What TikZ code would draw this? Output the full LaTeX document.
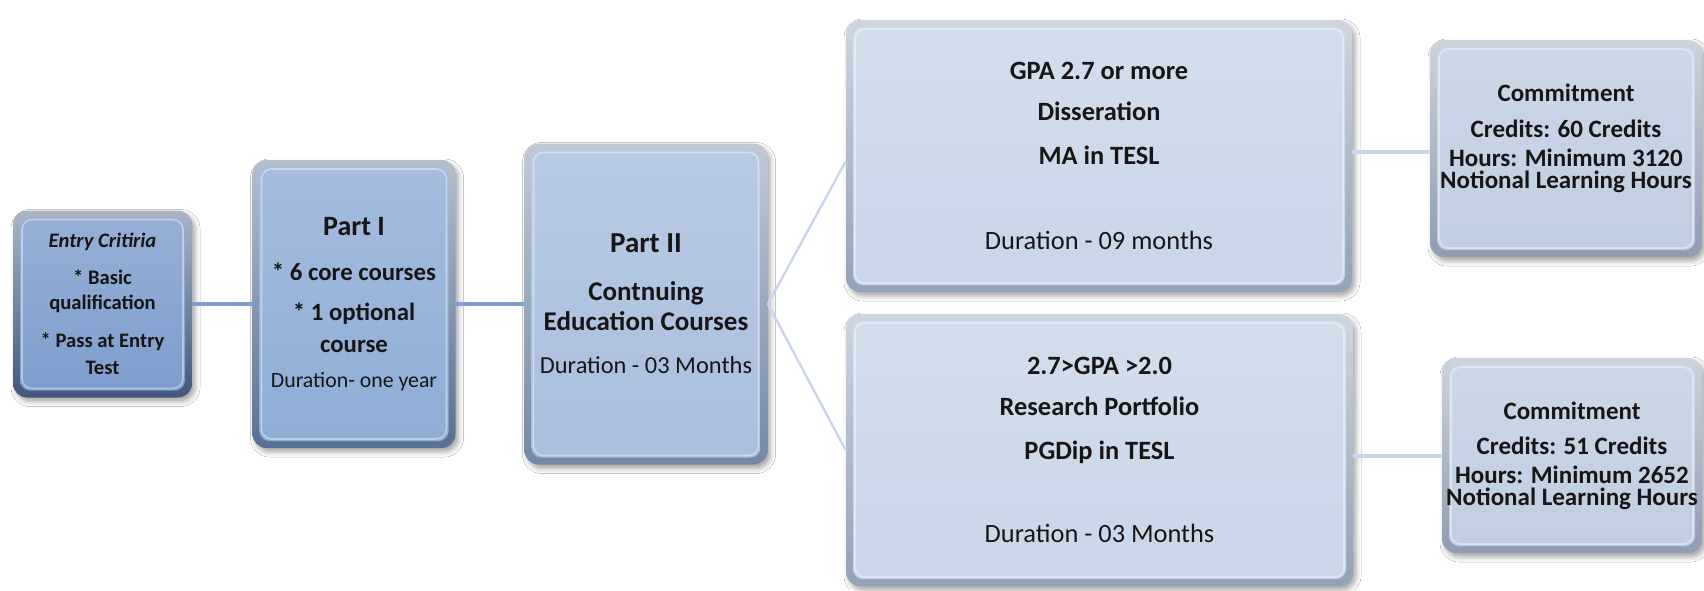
\documentclass[tikz,border=0pt]{standalone}
\usepackage{fontspec}
\setmainfont{Carlito}
\usetikzlibrary{shadows.blur,calc}
\definecolor{entryface}{RGB}{126,156,205}
\definecolor{entryrim}{RGB}{66,88,124}
\definecolor{pafface}{RGB}{143,172,214}
\definecolor{pafrim}{RGB}{88,112,148}
\definecolor{pbface}{RGB}{168,190,220}
\definecolor{pbrim}{RGB}{116,136,164}
\definecolor{midface}{RGB}{200,214,232}
\definecolor{midrim}{RGB}{146,162,184}
\definecolor{rface}{RGB}{192,206,225}
\definecolor{rrim}{RGB}{142,157,178}
\definecolor{darkline}{RGB}{128,158,208}
\definecolor{lightline}{RGB}{202,213,236}
\definecolor{txt}{RGB}{22,22,22}
\tikzset{
  bevelbox/.style n args={4}{
    shape=rectangle, rounded corners=7pt, inner sep=0pt, align=center,
    minimum width=#3, minimum height=#4, text=txt,
    top color=#2!45!white, bottom color=#2,
    blur shadow={shadow xshift=1.5pt, shadow yshift=-2pt, shadow blur radius=2.5pt, shadow opacity=35},
    path picture={
      \shade[top color=#1!80!white, bottom color=#1, rounded corners=5pt]
        ([shift={(3.5pt,-3.5pt)}]path picture bounding box.north west) rectangle
        ([shift={(-3.5pt,3.5pt)}]path picture bounding box.south east);
      \draw[white, opacity=0.4, line width=0.8pt, rounded corners=5pt]
        ([shift={(4.5pt,-4.5pt)}]path picture bounding box.north west) rectangle
        ([shift={(-4.5pt,4.5pt)}]path picture bounding box.south east);
    }
  },
  darkconn/.style={draw=darkline, line width=2pt},
  lightconn/.style={draw=lightline, line width=1.2pt},
  sideconn/.style={draw=lightline, line width=2pt}
}
\begin{document}
\begin{tikzpicture}[x=0.5pt,y=-0.5pt]
\fill[white] (0,0) rectangle (1704,590);
\useasboundingbox (0,0) rectangle (1704,590);

\node[bevelbox={entryface}{entryrim}{89.5pt}{93.5pt}, font=\fontsize{10.3}{12.5pt}\selectfont\bfseries] (entry) at (102.5,304)
  {\textit{Entry Critiria}\\[6pt] * Basic\\[0pt] qualification\\[6.5pt] * Pass at Entry\\[1pt] Test};

\node[bevelbox={pafface}{pafrim}{101.5pt}{144pt}, font=\fontsize{12.4}{14pt}\selectfont\bfseries] (partI) at (354,304)
  {{\fontsize{14}{14pt}\selectfont Part I}\\[8.5pt] * 6 core courses\\[6pt] * 1 optional\\[2pt] course\\[3.5pt] {\mdseries\fontsize{10.9}{14pt}\selectfont Duration- one year}};

\node[bevelbox={pbface}{pbrim}{121.5pt}{160.5pt}, font=\fontsize{13.5}{15pt}\selectfont\bfseries] (partII) at (646,304)
  {{\fontsize{14.5}{15pt}\selectfont Part II}\\[9pt] Contnuing\\[0pt] Education Courses\\[6.5pt] {\mdseries\fontsize{12.2}{15pt}\selectfont Duration - 03 Months}};

\node[bevelbox={midface}{midrim}{253pt}{136pt}, font=\fontsize{13.2}{21pt}\selectfont\bfseries] (mtop) at (1099,156)
  {GPA 2.7 or more\\[-0.5pt] Disseration\\[1pt] MA in TESL\\[21.5pt] {\mdseries Duration - 09 months}};

\node[bevelbox={midface}{midrim}{253.5pt}{136pt}, font=\fontsize{13.2}{21pt}\selectfont\bfseries] (mbot) at (1099.5,450)
  {2.7>GPA >2.0\\[-0.5pt] Research Portfolio\\[1pt] PGDip in TESL\\[20.5pt] {\mdseries Duration - 03 Months}};

\node[bevelbox={rface}{rrim}{136pt}{108.5pt}, font=\fontsize{12.5}{13pt}\selectfont\bfseries] (rtop) at (1566,148.5)
  {Commitment\\[5pt] Credits: 60 Credits\\[1.5pt] Hours: Minimum 3120\\[-2pt] Notional Learning Hours\\[-0.4pt]\mbox{}};

\node[bevelbox={rface}{rrim}{130pt}{97.5pt}, font=\fontsize{12.5}{13pt}\selectfont\bfseries] (rbot) at (1572,455.5)
  {Commitment\\[4.5pt] Credits: 51 Credits\\[1.5pt] Hours: Minimum 2652\\[-2pt] Notional Learning Hours};

\coordinate (mtopin) at ($(mtop.north west)!0.52!(mtop.south west)$);
\coordinate (ra) at ($(rtop.north west)!0.516!(rtop.south west)$);

\draw[darkconn] (entry.east) -- (partI.west);
\draw[darkconn] (partI.east) -- (partII.west);
\draw[lightconn] (partII.east) -- (mtopin);
\draw[lightconn] (partII.east) -- (mbot.west);
\draw[sideconn] (ra -| mtop.east) -- (ra);
\draw[sideconn] (rbot.west -| mbot.east) -- (rbot.west);
\end{tikzpicture}
\end{document}
